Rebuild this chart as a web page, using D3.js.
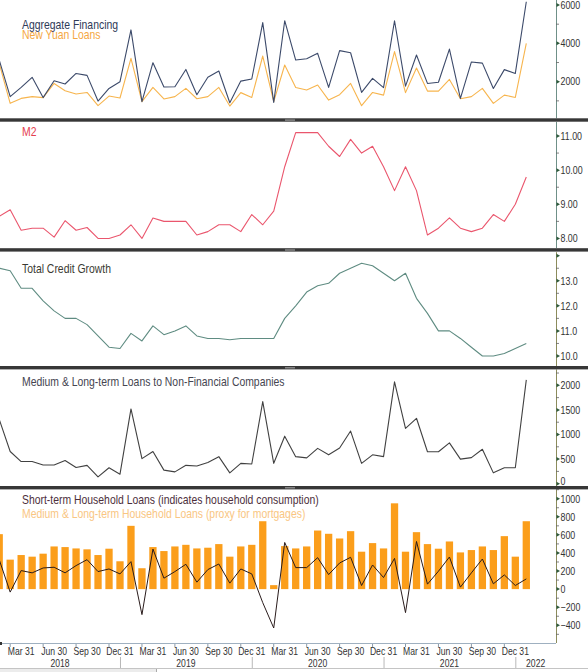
<!DOCTYPE html>
<html>
<head>
<meta charset="utf-8">
<script src="https://cdn.jsdelivr.net/npm/d3@7"></script>
<style>
  html, body { margin: 0; padding: 0; background: #fff; }
  svg { display: block; font-family: "Liberation Sans", Arial, sans-serif; }
</style>
</head>
<body>
<svg id="chart" width="588" height="672"></svg>
<script>
//
// monthly readings, Jan 2018 .. Jan 2022 (49 months)
var aggFinancing = [3130, 1220, 1700, 2230, 1170, 2050, 1880, 2430, 2330, 990, 1650, 2000,
                    4700, 960, 2990, 1720, 1740, 2640, 1320, 2230, 2560, 900, 2030, 2140,
                    5080, 920, 5180, 3130, 3200, 3480, 1700, 3620, 3510, 1440, 2170, 1690,
                    5180, 1770, 3390, 1910, 1970, 3700, 1130, 3030, 2970, 1650, 2630, 2430,
                    6170];
var newYuanLoans = [2960, 870, 1130, 1220, 1170, 1910, 1530, 1360, 1440, 750, 1250, 1150,
                    3220, 960, 1700, 1100, 1220, 1650, 1110, 1220, 1700, 730, 1430, 1180,
                    3340, 960, 2870, 1700, 1570, 1830, 1040, 1320, 1910, 750, 1440, 1300,
                    3570, 1430, 2710, 1510, 1510, 2120, 1110, 1220, 1650, 870, 1300, 1180,
                    4000];
var m2 = [8.65, 8.84, 8.24, 8.3, 8.3, 8.04, 8.52, 8.24, 8.32, 8.0, 8.0, 8.1,
          8.4, 8.0, 8.6, 8.5, 8.5, 8.5, 8.1, 8.2, 8.4, 8.4, 8.2, 8.7,
          8.4, 8.8, 10.1, 11.1, 11.1, 11.1, 10.7, 10.4, 10.9, 10.5, 10.7, 10.1,
          9.4, 10.1, 9.4, 8.1, 8.3, 8.6, 8.3, 8.2, 8.3, 8.7, 8.5, 9.0,
          9.8];
var totalCredit = [13.5, 13.4, 12.7, 12.7, 12.2, 11.8, 11.5, 11.5, 11.25, 10.8, 10.35, 10.3,
                   10.9, 10.6, 11.2, 10.85, 11.0, 11.2, 10.8, 10.7, 10.7, 10.65, 10.7, 10.7,
                   10.7, 10.7, 11.5, 12.0, 12.55, 12.8, 12.9, 13.3, 13.5, 13.7, 13.6, 13.3,
                   13.0, 13.3, 12.3, 11.7, 11.0, 11.0, 10.7, 10.35, 10.0, 10.0, 10.1, 10.3,
                   10.5];
var mltCorpLoans = [1310, 655, 450, 450, 380, 380, 470, 330, 373, 138, 324, 193,
                    1520, 510, 655, 276, 240, 373, 360, 430, 550, 220, 414, 400,
                    1670, 414, 966, 550, 524, 718, 587, 725, 1070, 414, 587, 550,
                    2070, 1125, 1330, 650, 650, 830, 500, 530, 700, 220, 324, 324,
                    2110];
var hhShortLoans = [326, -33, 205, 180, 234, 242, 180, 260, 326, 194, 223, 168,
                    304, -282, 443, 121, 194, 275, 77, 216, 278, 66, 223, 168,
                    -150, -430, 516, 238, 238, 348, 161, 289, 352, 40, 267, 128,
                    340, -260, 527, 55, 198, 355, 22, 180, 333, 59, 157, 40,
                    113];
var hhMltLoans = [608, 326, 377, 359, 392, 472, 465, 450, 440, 377, 447, 308,
                  700, 231, 465, 421, 472, 490, 450, 458, 498, 359, 472, 490,
                  751, 44, 476, 450, 472, 648, 612, 560, 641, 414, 509, 450,
                  949, 414, 630, 498, 447, 527, 406, 432, 472, 432, 586, 359,
                  751];

var finTicks = [2000, 4000, 6000],
    m2Ticks = [8, 9, 10, 11],
    creditTicks = [10, 11, 12, 13, 14],
    corpTicks = [0, 500, 1000, 1500, 2000],
    hhTicks = [-400, -200, 0, 200, 400, 600, 800, 1000],
    monthLabels = ['Mar 31', 'Jun 30', 'Sep 30', 'Dec 31'],
    years = ['2018', '2019', '2020', '2021', '2022'];

var svg = d3.select('#chart'),
    width = 588,
    axisX = 556,
    narrow = 0.82,   // squeeze a regular sans into the terminal's condensed look
    months = d3.range(aggFinancing.length),
    x = d3.scaleLinear().domain([0, 48]).range([-0.8, 526.3]);

var at = function(px, py, sx) { return 'translate(' + px + ',' + py + ') scale(' + (sx || narrow) + ',1)'; };

svg.append('defs').append('clipPath').attr('id', 'plot-clip')
  .append('rect').attr('x', 0).attr('y', 0).attr('width', axisX).attr('height', 672);

//
// panel frames and right-hand axes
var panels = [
  { top: 0,     bottom: 118.3, domain: [91, 6261],   ticks: finTicks,    step: 1000, fmt: d3.format('d'),   axis: '#6f9088' },
  { top: 122,   bottom: 248,   domain: [7.72, 11.41], ticks: m2Ticks,    step: 0.5,  fmt: d3.format('.2f'), axis: '#6f9088' },
  { top: 252.2, bottom: 366,   domain: [9.6, 14.14], ticks: creditTicks, step: 0.5,  fmt: d3.format('.1f'), axis: '#8c8c5c' },
  { top: 369.4, bottom: 486,   domain: [-47, 2324],  ticks: corpTicks,   step: 250,  fmt: d3.format('d'),   axis: '#8c8c5c' },
  { top: 489.4, bottom: 643,   domain: [-596, 1103], ticks: hhTicks,     step: 100,  fmt: d3.format('d'),   axis: '#8c8c5c' }
];

panels.forEach(function(p) {
  p.y = d3.scaleLinear().domain(p.domain).range([p.bottom, p.top]);
  var g = svg.append('g').attr('class', 'axis');
  g.append('line')
    .attr('x1', axisX + 0.5).attr('x2', axisX + 0.5)
    .attr('y1', p.top).attr('y2', p.bottom)
    .attr('stroke', p.axis).attr('stroke-width', 1);

  var minors = d3.range(Math.ceil(p.domain[0] / p.step) * p.step, p.domain[1], p.step)
    .filter(function(v) { return p.ticks.indexOf(+v.toFixed(4)) < 0; });
  g.selectAll('.minor').data(minors).enter()
    .append('line').attr('class', 'minor')
    .attr('x1', axisX).attr('x2', axisX + 3)
    .attr('y1', function(d) { return p.y(d); })
    .attr('y2', function(d) { return p.y(d); })
    .attr('stroke', '#666').attr('stroke-width', 0.8);

  var majors = p.ticks.filter(function(v) { return p.y(v) >= p.top && p.y(v) <= p.bottom; });
  g.selectAll('.major').data(majors).enter()
    .append('path').attr('class', 'major')
    .attr('d', function(d) { var yy = p.y(d); return 'M' + (axisX + 0.5) + ',' + (yy - 2) + ' l3.5,2 l-3.5,2 z'; })
    .attr('fill', '#2f5a3c');
  g.selectAll('.lbl').data(majors.filter(function(v) { return p.y(v) - p.top > 4; })).enter()
    .append('text').attr('class', 'lbl')
    .attr('transform', function(d) { return at(axisX + 4.5, Math.min(p.y(d), p.bottom - 5)); })
    .attr('dy', '0.35em')
    .attr('font-size', 10.8)
    .attr('fill', '#333')
    .text(p.fmt);
});

var plot = svg.append('g').attr('clip-path', 'url(#plot-clip)');

function drawLine(series, p, color, w) {
  plot.append('path').datum(series)
    .attr('fill', 'none')
    .attr('stroke', color)
    .attr('stroke-width', w || 1.1)
    .attr('stroke-linejoin', 'round')
    .attr('d', d3.line().x(function(d, i) { return x(i); }).y(function(d) { return p.y(d); }));
}

//
// household bars first so the short-term line sits on top
var hp = panels[4], barW = 7.3;
plot.selectAll('rect.hh').data(hhMltLoans).enter()
  .append('rect').attr('class', 'hh')
  .attr('x', function(d, i) { return x(i) - barW / 2; })
  .attr('width', barW)
  .attr('y', function(d) { return hp.y(Math.max(0, d)); })
  .attr('height', function(d) { return Math.abs(hp.y(d) - hp.y(0)); })
  .attr('fill', '#fb9e1b');

drawLine(newYuanLoans, panels[0], '#f7b54e', 1.1);
drawLine(aggFinancing, panels[0], '#3c4a6a', 1.1);
drawLine(m2, panels[1], '#ea566d', 1.1);
drawLine(totalCredit, panels[2], '#5f8c82', 1.1);
drawLine(mltCorpLoans, panels[3], '#414141', 1.1);
drawLine(hhShortLoans, panels[4], '#2a1c1c', 1);

//
// titles
var titles = [
  { t: 'Aggregate Financing', y: 28.5, c: '#2e3a58' },
  { t: 'New Yuan Loans', y: 39, c: '#f5a742' },
  { t: 'M2', y: 135.5, c: '#e4404f' },
  { t: 'Total Credit Growth', y: 272.5, c: '#3a3a32' },
  { t: 'Medium & Long-term Loans to Non-Financial Companies', y: 385.5, c: '#454550' },
  { t: 'Short-term Household Loans (indicates household consumption)', y: 504, c: '#4d2f3c' },
  { t: 'Medium & Long-term Household Loans (proxy for mortgages)', y: 518, c: '#f9c683' }
];
svg.selectAll('text.title').data(titles).enter()
  .append('text').attr('class', 'title')
  .attr('transform', function(d) { return at(22, d.y, 0.84); })
  .attr('font-size', 12.4)
  .attr('fill', function(d) { return d.c; })
  .text(function(d) { return d.t; });

//
// panel separators
var seps = [118.3, 248.2, 366, 486];
svg.selectAll('rect.sep').data(seps).enter()
  .append('rect').attr('class', 'sep')
  .attr('x', 0).attr('y', function(d) { return d; })
  .attr('width', width).attr('height', 3.4)
  .attr('fill', '#373737');
svg.selectAll('rect.handle').data(seps).enter()
  .append('rect').attr('class', 'handle')
  .attr('x', 285).attr('y', function(d) { return d + 1.2; })
  .attr('width', 10).attr('height', 1.2)
  .attr('fill', '#9a9a9a');

//
// bottom time axis
var xa = svg.append('g').attr('class', 'x-axis');
xa.append('line')
  .attr('x1', 0).attr('x2', axisX)
  .attr('y1', 643.5).attr('y2', 643.5)
  .attr('stroke', '#9fb0c0').attr('stroke-width', 1);
xa.append('rect').attr('x', 0).attr('y', 642).attr('width', 2).attr('height', 3).attr('fill', '#333');

xa.selectAll('.xtick').data(months.filter(function(i) { return i % 3 === 1; })).enter()
  .append('line').attr('class', 'xtick')
  .attr('x1', function(i) { return x(i); }).attr('x2', function(i) { return x(i); })
  .attr('y1', 644).attr('y2', 647)
  .attr('stroke', '#8a9aa8');

xa.selectAll('.mlbl').data(months.filter(function(i) { return i % 3 === 2; })).enter()
  .append('text').attr('class', 'mlbl')
  .attr('transform', function(i) { return at(x(i), 654.5); })
  .attr('text-anchor', 'middle')
  .attr('font-size', 10.5)
  .attr('fill', '#333')
  .text(function(i) { return monthLabels[Math.floor(i / 3) % 4]; });

var yearBreaks = months.filter(function(i) { return i % 12 === 11; });
xa.selectAll('.ysep').data(yearBreaks).enter()
  .append('line').attr('class', 'ysep')
  .attr('x1', function(i) { return x(i) + 0.5; }).attr('x2', function(i) { return x(i) + 0.5; })
  .attr('y1', 657).attr('y2', 668)
  .attr('stroke', '#b8b8b8');

var yearEdges = [0].concat(yearBreaks.map(function(i) { return x(i); }), [axisX]);
xa.selectAll('.ylbl').data(years).enter()
  .append('text').attr('class', 'ylbl')
  .attr('transform', function(d, k) { return at((yearEdges[k] + yearEdges[k + 1]) / 2, 666.5); })
  .attr('text-anchor', 'middle')
  .attr('font-size', 10.5)
  .attr('fill', '#333')
  .text(function(d) { return d; });

// scroll strip along the bottom
svg.append('line').attr('x1', 0).attr('x2', width).attr('y1', 668.5).attr('y2', 668.5)
  .attr('stroke', '#c4c4c4');
svg.append('rect').attr('x', 0).attr('y', 669).attr('width', 156).attr('height', 3)
  .attr('fill', '#ececec');
svg.append('line').attr('x1', 156.5).attr('x2', 156.5).attr('y1', 669).attr('y2', 672)
  .attr('stroke', '#aaa');
</script>
</body>
</html>
